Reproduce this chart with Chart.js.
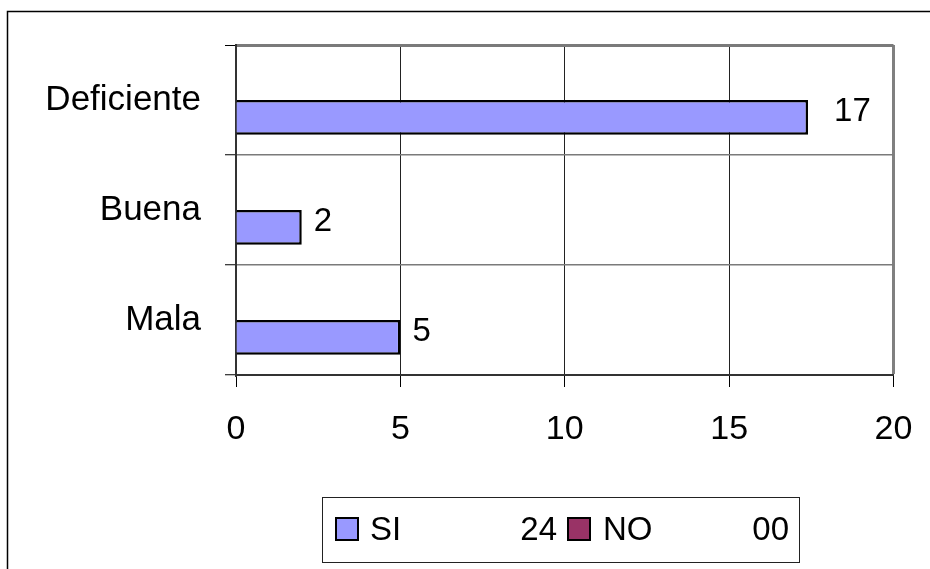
<!DOCTYPE html>
<html>
<head>
<meta charset="utf-8">
<script src="https://cdn.jsdelivr.net/npm/chart.js@4.4.1/dist/chart.umd.min.js"></script>
<style>
    html, body { margin: 0; padding: 0; background: #fff; }
</style>
</head>
<body>
<canvas id="chart" width="930" height="569"></canvas>
<script>
const categories = ['Deficiente', 'Buena', 'Mala']
const siValues = [17.4, 2, 5]
const noValues = [0, 0, 0]
const seriesNames = ['SI', 'NO']
const seriesTotals = ['24', '00']
const xTicks = [0, 5, 10, 15, 20]

const FONT = '"Liberation Sans", Arial, sans-serif'
const siColor = '#9999ff'
const noColor = '#993366'

Chart.defaults.font.family = FONT
Chart.defaults.font.size = 34
Chart.defaults.color = '#000'

// outer frame (top + left only, like the source)
const frame = {
    id: 'frame',
    beforeDraw(chart) {
        const { ctx } = chart
        ctx.save()
        ctx.strokeStyle = '#000'
        ctx.lineWidth = 1.5
        ctx.beginPath()
        ctx.moveTo(930, 11.5)
        ctx.lineTo(7.5, 11.5)
        ctx.lineTo(7.5, 569)
        ctx.stroke()
        ctx.restore()
    },
}

// numbers after the SI bars
const valueLabels = {
    id: 'valueLabels',
    afterDatasetsDraw(chart) {
        const { ctx } = chart
        const meta = chart.getDatasetMeta(1)
        ctx.save()
        ctx.font = `33px ${FONT}`
        ctx.fillStyle = '#000'
        ctx.textAlign = 'left'
        ctx.textBaseline = 'middle'
        meta.data.forEach((bar, i) => {
            const gap = siValues[i] > 10 ? 26 : 12
            ctx.fillText(String(Math.round(siValues[i])), bar.x + gap, bar.y - 5)
        })
        ctx.restore()
    },
}

// framed legend at the bottom: "■ SI   24 ■ NO   00"
const legendBox = {
    id: 'legendBox',
    afterDraw(chart) {
        const { ctx } = chart
        const order = [1, 0] // SI first, NO second
        const slots = [
            { box: 336, name: 370, total: 557 },
            { box: 568, name: 603, total: 789 },
        ]
        ctx.save()
        ctx.strokeStyle = '#222'
        ctx.lineWidth = 1
        ctx.strokeRect(322.5, 497.5, 477, 65)
        ctx.font = `33px ${FONT}`
        ctx.textBaseline = 'middle'
        order.forEach((dsIndex, k) => {
            const ds = chart.data.datasets[dsIndex]
            const s = slots[k]
            ctx.fillStyle = ds.backgroundColor
            ctx.fillRect(s.box, 518, 22, 22)
            ctx.strokeStyle = '#000'
            ctx.lineWidth = 2
            ctx.strokeRect(s.box, 518, 22, 22)
            ctx.fillStyle = '#000'
            ctx.textAlign = 'left'
            ctx.fillText(seriesNames[k], s.name, 531)
            ctx.textAlign = 'right'
            ctx.fillText(seriesTotals[k], s.total, 531)
        })
        ctx.restore()
    },
}

new Chart(document.getElementById('chart').getContext('2d'), {
    type: 'bar',
    data: {
        labels: categories,
        datasets: [
            {
                label: seriesNames[1],
                data: noValues,
                backgroundColor: noColor,
                borderColor: '#000',
                borderWidth: 2,
            },
            {
                label: seriesNames[0],
                data: siValues,
                backgroundColor: siColor,
                borderColor: '#000',
                borderWidth: 2.5,
            },
        ],
    },
    options: {
        indexAxis: 'y',
        responsive: false,
        animation: false,
        categoryPercentage: 0.63,
        barPercentage: 1,
        layout: { padding: { top: 40.5, right: 36.5, left: 0, bottom: 0 } },
        plugins: {
            legend: { display: false },
            tooltip: { enabled: false },
        },
        scales: {
            x: {
                min: xTicks[0],
                max: xTicks[xTicks.length - 1],
                afterBuildTicks: (scale) => {
                    scale.ticks = xTicks.map((v) => ({ value: v }))
                },
                afterFit: (scale) => {
                    scale.height = 569 - 375
                    scale.paddingLeft = 0
                    scale.paddingRight = 0
                },
                ticks: { padding: 22, font: { size: 34 } },
                grid: {
                    color: (c) => (c.tick && c.tick.value === 20 ? '#808080' : '#222'),
                    lineWidth: (c) => (c.tick && c.tick.value === 20 ? 3 : 1),
                    tickColor: '#000',
                    tickWidth: 1,
                    tickLength: 12,
                },
                border: { color: '#333', width: 2 },
            },
            y: {
                afterFit: (scale) => {
                    scale.width = 236
                },
                ticks: { padding: 24, font: { size: 35 } },
                grid: {
                    offset: true,
                    color: '#7a7a7a',
                    lineWidth: (c) => (c.index === 0 ? 3 : 1.5),
                    tickColor: '#000',
                    tickWidth: 1,
                    tickLength: 11,
                },
                border: { color: '#333', width: 2 },
            },
        },
    },
    plugins: [frame, valueLabels, legendBox],
})
</script>
</body>
</html>
